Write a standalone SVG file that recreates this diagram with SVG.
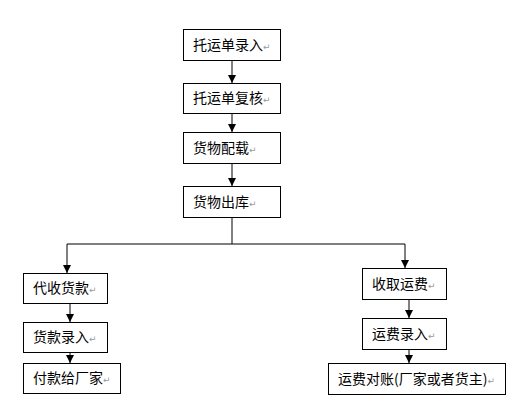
<svg xmlns="http://www.w3.org/2000/svg" width="519" height="409" viewBox="0 0 519 409">
<defs>
<style>
.box{fill:#fff;stroke:#000;stroke-width:1}
.t{font-family:"Noto Sans CJK SC","Noto Sans",sans-serif;font-size:14px;fill:#000}
.r{font-family:"DejaVu Sans",sans-serif;font-size:9px;fill:#999}
.ln{stroke:#000;stroke-width:1;fill:none}
</style>
<marker id="ah" viewBox="0 0 8 8" refX="8" refY="4" markerWidth="8" markerHeight="8" orient="auto" markerUnits="userSpaceOnUse">
<path d="M0,0 L8,4 L0,8 Z" fill="#000"/>
</marker>
</defs>
<rect width="519" height="409" fill="#fff"/>
<g id="connectors">
<line class="ln" x1="232" y1="61" x2="232" y2="83" marker-end="url(#ah)"/>
<line class="ln" x1="232" y1="113" x2="232" y2="132" marker-end="url(#ah)"/>
<line class="ln" x1="232" y1="163" x2="232" y2="186" marker-end="url(#ah)"/>
<polyline class="ln" points="232,217 232,244"/>
<polyline class="ln" points="232,244 67,244 67,273" marker-end="url(#ah)"/>
<polyline class="ln" points="232,244 405,244 405,268" marker-end="url(#ah)"/>
<line class="ln" x1="70" y1="304" x2="70" y2="322" marker-end="url(#ah)"/>
<line class="ln" x1="70" y1="352" x2="70" y2="363" marker-end="url(#ah)"/>
<line class="ln" x1="409" y1="300" x2="409" y2="318" marker-end="url(#ah)"/>
<line class="ln" x1="409" y1="349" x2="409" y2="363" marker-end="url(#ah)"/>
</g>
<g id="n1"><rect class="box" x="183.5" y="29.5" width="97" height="31"/><text class="t" x="193" y="50">托运单录入<tspan class="r">↵</tspan></text></g>
<g id="n2"><rect class="box" x="183.5" y="83.5" width="97" height="30"/><text class="t" x="193" y="103">托运单复核<tspan class="r">↵</tspan></text></g>
<g id="n3"><rect class="box" x="183.5" y="132.5" width="97" height="31"/><text class="t" x="193" y="153">货物配载<tspan class="r">↵</tspan></text></g>
<g id="n4"><rect class="box" x="183.5" y="186.5" width="97" height="31"/><text class="t" x="193" y="207">货物出库<tspan class="r">↵</tspan></text></g>
<g id="n5"><rect class="box" x="23.5" y="273.5" width="84" height="30"/><text class="t" x="33" y="293">代收货款<tspan class="r">↵</tspan></text></g>
<g id="n6"><rect class="box" x="23.5" y="322.5" width="84" height="30"/><text class="t" x="33" y="342">货款录入<tspan class="r">↵</tspan></text></g>
<g id="n7"><rect class="box" x="23.5" y="363.5" width="97" height="30"/><text class="t" x="33" y="383">付款给厂家<tspan class="r">↵</tspan></text></g>
<g id="n8"><rect class="box" x="362.5" y="268.5" width="84" height="31"/><text class="t" x="372" y="289">收取运费<tspan class="r">↵</tspan></text></g>
<g id="n9"><rect class="box" x="362.5" y="318.5" width="84" height="31"/><text class="t" x="372" y="339">运费录入<tspan class="r">↵</tspan></text></g>
<g id="n10"><rect class="box" x="328.5" y="363.5" width="177" height="31"/><text class="t" x="338" y="384">运费对账(厂家或者货主)<tspan class="r">↵</tspan></text></g>
</svg>
